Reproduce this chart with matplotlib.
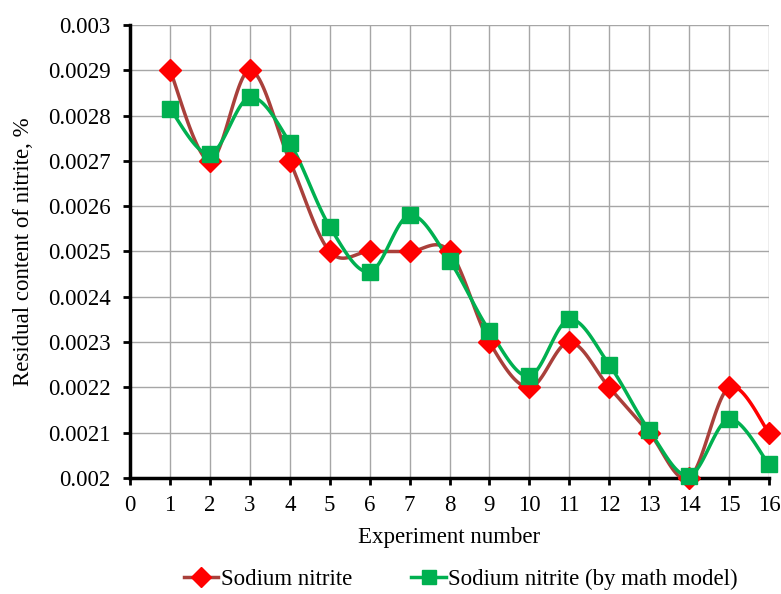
import numpy as np
import matplotlib
matplotlib.use("Agg")
import matplotlib.pyplot as plt
from matplotlib.lines import Line2D

plt.rcParams['font.family'] = ['Liberation Serif', 'DejaVu Serif']

experiments = list(range(1, 17))
sodium_nitrite = [0.0029, 0.0027, 0.0029, 0.0027, 0.0025, 0.0025, 0.0025, 0.0025,
                  0.0023, 0.0022, 0.0023, 0.0022, 0.0021, 0.0020, 0.0022, 0.0021]
sodium_nitrite_model = [0.002815, 0.002715, 0.00284, 0.00274, 0.002555, 0.002455, 0.00258, 0.00248,
                        0.002325, 0.002225, 0.00235, 0.00225, 0.002105, 0.002005, 0.00213, 0.00203]
y_ticks = [0.002, 0.0021, 0.0022, 0.0023, 0.0024, 0.0025, 0.0026, 0.0027, 0.0028, 0.0029, 0.003]
y_tick_labels = ['0.002', '0.0021', '0.0022', '0.0023', '0.0024', '0.0025', '0.0026',
                 '0.0027', '0.0028', '0.0029', '0.003']


def smooth_segments(x, y, n=30):
    x = np.asarray(x, float); y = np.asarray(y, float)
    segs = []
    N = len(x)
    for i in range(N - 1):
        p0 = np.array([x[max(i - 1, 0)], y[max(i - 1, 0)]])
        p1 = np.array([x[i], y[i]])
        p2 = np.array([x[i + 1], y[i + 1]])
        p3 = np.array([x[min(i + 2, N - 1)], y[min(i + 2, N - 1)]])
        c1 = p1 + (p2 - p0) / 6.0
        c2 = p2 - (p3 - p1) / 6.0
        t = np.linspace(0, 1, n)[:, None]
        pts = ((1 - t) ** 3) * p1 + 3 * ((1 - t) ** 2) * t * c1 + 3 * (1 - t) * t ** 2 * c2 + t ** 3 * p2
        segs.append(pts)
    return segs


FS = 16.5
fig = plt.figure(figsize=(7.81, 5.94), dpi=100)
ax = fig.add_axes([0.1665, 0.1953, 0.8181, 0.7627])

ax.set_xlim(0, 16)
ax.set_ylim(0.002, 0.003)
ax.set_xticks(range(0, 17))
ax.set_yticks(y_ticks)
ax.set_yticklabels(y_tick_labels)
ax.grid(True, color='#A6A6A6', linewidth=1.0)
ax.set_axisbelow(True)
for s in ['top', 'right']:
    ax.spines[s].set_visible(False)
for s in ['left', 'bottom']:
    ax.spines[s].set_linewidth(2.5)
    ax.spines[s].set_color('black')
ax.tick_params(axis='both', direction='out', length=5, width=2, labelsize=FS, colors='black')
ax.tick_params(axis='x', pad=7)
ax.tick_params(axis='y', pad=9)

brown = '#A9403B'
red = '#FF0000'
green = '#00B050'

segs1 = smooth_segments(experiments, sodium_nitrite)
for i, seg in enumerate(segs1):
    ax.plot(seg[:, 0], seg[:, 1], color=red if i == len(segs1) - 1 else brown,
            linewidth=2.5, solid_capstyle='round', zorder=3, clip_on=False)
segs2 = smooth_segments(experiments, sodium_nitrite_model)
for seg in segs2:
    ax.plot(seg[:, 0], seg[:, 1], color=green, linewidth=2.5, zorder=4, clip_on=False)

ax.plot(experiments, sodium_nitrite, linestyle='none', marker='D', markersize=11,
        color=red, markeredgecolor=red, zorder=5, clip_on=False)
ax.plot(experiments, sodium_nitrite_model, linestyle='none', marker='s', markersize=11,
        color=green, markeredgecolor=green, zorder=6, clip_on=False)

ax.set_xlabel('Experiment number', fontsize=FS, labelpad=8)
ax.set_ylabel('Residual content of nitrite, %', fontsize=FS, labelpad=10)

handles = [Line2D([0], [0], color=brown, linewidth=2.5, marker='D', markersize=10,
                  markerfacecolor=red, markeredgecolor=red),
           Line2D([0], [0], color=green, linewidth=2.5, marker='s', markersize=10,
                  markerfacecolor=green, markeredgecolor=green)]
fig.legend(handles, ['Sodium nitrite', 'Sodium nitrite (by math model)'],
           loc='center', bbox_to_anchor=(0.59, 0.024), ncol=2, frameon=False,
           fontsize=FS, handlelength=1.5, handletextpad=0.1, columnspacing=2.6)

fig.savefig('out.png', dpi=100)
